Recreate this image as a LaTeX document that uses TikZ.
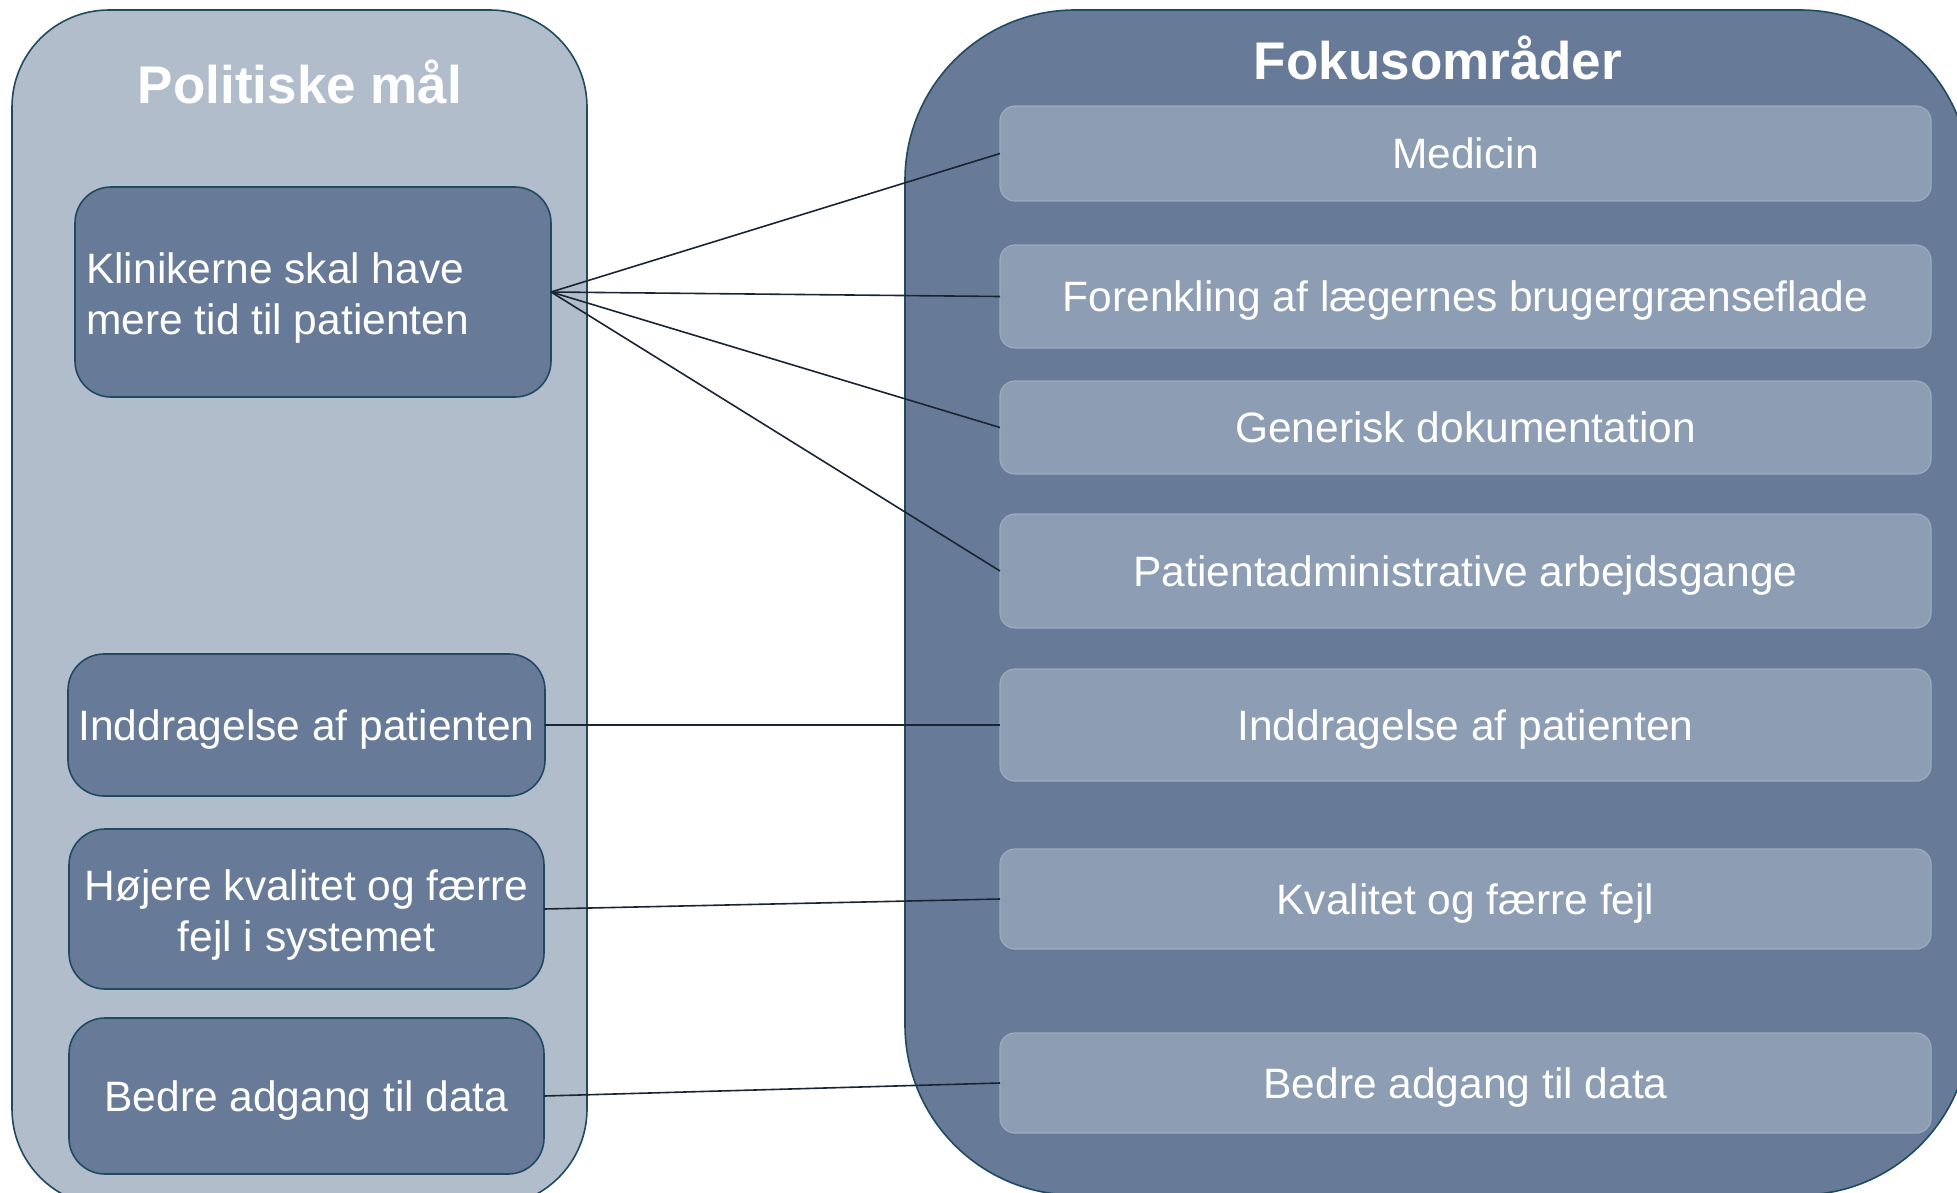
\documentclass[tikz,border=0pt]{standalone}
\usepackage{fontspec}
\setmainfont{Liberation Sans}
\definecolor{outerlight}{HTML}{B1BDCB}
\definecolor{darkfill}{HTML}{677B98}
\definecolor{lightbox}{HTML}{8C9DB4}
\definecolor{edgedark}{HTML}{1F4A60}
\definecolor{edgelight}{HTML}{9DABBE}
\definecolor{linkcol}{HTML}{1A2432}
\begin{document}
\begin{tikzpicture}[x=1pt,y=-1pt,
  panel/.style={rectangle, draw=edgedark, line width=1.6pt, inner sep=0pt, outer sep=0pt},
  leftpanel/.style={panel, fill=outerlight, rounded corners=97pt},
  rightpanel/.style={panel, fill=darkfill, rounded corners=170pt},
  boxfont/.style={font=\fontsize{42.5}{51}\selectfont},
  goalbox/.style={rectangle, draw=edgedark, fill=darkfill, line width=1.6pt, rounded corners=36pt,
    inner sep=0pt, outer sep=0pt, text=white, boxfont},
  goaltext/.style={text=white, inner sep=0pt, boxfont},
  focusbox/.style={rectangle, draw=edgelight, fill=lightbox, line width=1.2pt, rounded corners=15pt,
    inner sep=0pt, outer sep=0pt, text=white, minimum width=931pt,
    text height=30pt, text depth=0pt, boxfont},
  paneltitle/.style={text=white, anchor=base, inner sep=0pt, font=\bfseries\fontsize{53}{60}\selectfont},
  link/.style={draw=linkcol, line width=1.6pt}
]
\useasboundingbox (0,0) rectangle (1957,1192);
\clip (0,0) rectangle (1957,1192);

% containers
\node[leftpanel, minimum width=575pt, minimum height=1196pt] (lp) at (299.5,608) {};
\node[rightpanel, minimum width=1065pt, minimum height=1185pt] (rp) at (1437.5,602.5) {};

% titles
\node[paneltitle] (lt) at (300,103) {Politiske mål};
\node[paneltitle] (rt) at (1438,79) {Fokusområder};

% left goal boxes
\node[goalbox, minimum width=476pt, minimum height=210pt] (k1) at (313,292) {};
\node[goaltext, anchor=west, align=left] (k1t) at (86,298) {Klinikerne skal have\\mere tid til patienten};
\node[goalbox, minimum width=477pt, minimum height=142pt, text height=30pt, text depth=0pt] (k2) at (306.5,725) {Inddragelse af patienten};
\node[goalbox, minimum width=475pt, minimum height=160pt] (k3) at (306.5,909) {};
\node[goaltext, align=center] (k3t) at (306.5,915) {Højere kvalitet og færre\\fejl i systemet};
\node[goalbox, minimum width=475pt, minimum height=156pt, text height=30pt, text depth=0pt] (k4) at (306.5,1096) {Bedre adgang til data};

% right focus boxes
\node[focusbox, minimum height=95pt]  (r1) at (1465.5,153.5) {Medicin};
\node[focusbox, minimum height=103pt] (r2) at (1465.5,296.5) {Forenkling af lægernes brugergrænseflade};
\node[focusbox, minimum height=93pt]  (r3) at (1465.5,427.5) {Generisk dokumentation};
\node[focusbox, minimum height=114pt] (r4) at (1465.5,571) {Patientadministrative arbejdsgange};
\node[focusbox, minimum height=112pt] (r5) at (1465.5,725) {Inddragelse af patienten};
\node[focusbox, minimum height=100pt] (r6) at (1465.5,899) {Kvalitet og færre fejl};
\node[focusbox, minimum height=100pt] (r7) at (1465.5,1083) {Bedre adgang til data};

% connectors
\draw[link] (k1.east) -- (r1.west);
\draw[link] (k1.east) -- (r2.west);
\draw[link] (k1.east) -- (r3.west);
\draw[link] (k1.east) -- (r4.west);
\draw[link] (k2.east) -- (r5.west);
\draw[link] (k3.east) -- (r6.west);
\draw[link] (k4.east) -- (r7.west);
\end{tikzpicture}
\end{document}
